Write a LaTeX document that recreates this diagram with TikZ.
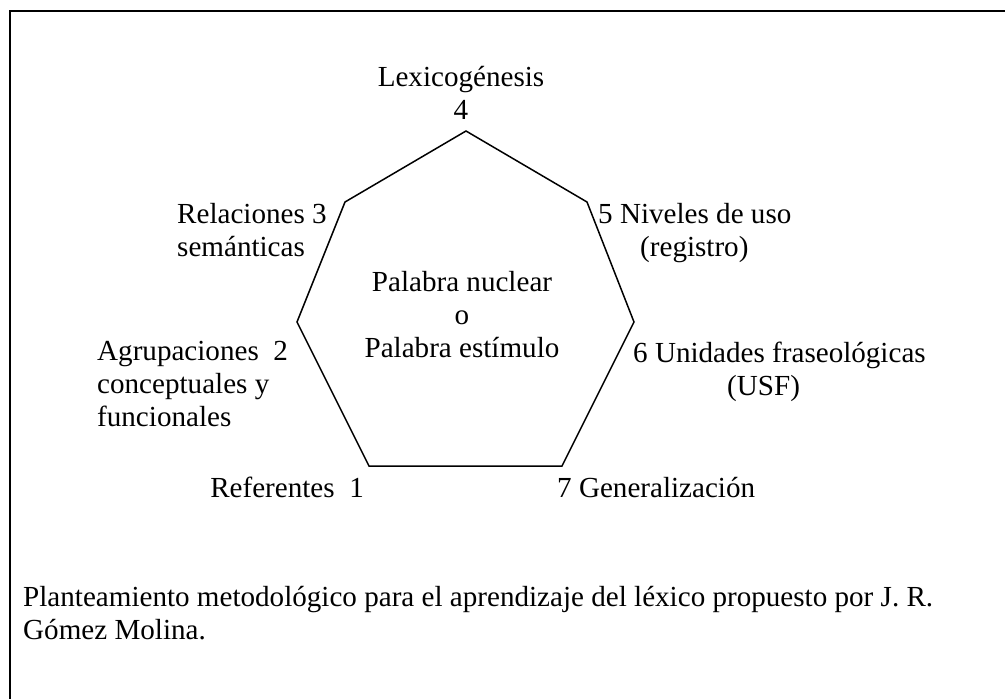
\documentclass[tikz,border=0pt]{standalone}
\usepackage{fontspec}
\setmainfont{Liberation Serif}
\begin{document}
\begin{tikzpicture}[x=1pt,y=-1pt,
  lbl/.style={inner sep=0pt,font=\fontsize{29.1}{33}\selectfont},
  edge/.style={line width=1.5pt,line join=miter}]
\useasboundingbox (0,0) rectangle (1005,699);
\draw[line width=2pt] (1006,10.5) -- (9.5,10.5) -- (9.5,700);
% heptagon vertices
\coordinate (v4) at (466,131);
\coordinate (v5) at (587,202);
\coordinate (v6) at (634,322);
\coordinate (v7) at (562,466);
\coordinate (v1) at (369,466);
\coordinate (v2) at (297,322);
\coordinate (v3) at (345,202);
\draw[edge] (v1) -- (v2) -- (v3) -- (v4) -- (v5) -- (v6) -- (v7) -- cycle;
% labels (base = baseline of last line)
\node[lbl,anchor=base,align=center] (lex) at (461,119) {Lexicogénesis\\4};
\node[lbl,anchor=base west,align=left] (rel) at (177,256) {Relaciones 3\\semánticas};
\node[lbl,anchor=base west,align=left] (niv) at (598,256) {5 Niveles de uso\\\hspace*{42pt}(registro)};
\node[lbl,anchor=base west,align=left] (agr) at (97,426) {Agrupaciones\ \ 2\\conceptuales y\\funcionales};
\node[lbl,anchor=base west,align=left] (uni) at (633,395) {6 Unidades fraseológicas\\\hspace*{94pt}(USF)};
\node[lbl,anchor=base east] (ref) at (364,497) {Referentes\ \ 1};
\node[lbl,anchor=base west] (gen) at (557,497) {7 Generalización};
\node[lbl,anchor=base,align=center] (cen) at (462,357) {Palabra nuclear\\o\\Palabra estímulo};
\node[lbl,anchor=base west,align=left] (cap) at (23,639) {Planteamiento metodológico para el aprendizaje del léxico propuesto por J. R.\\Gómez Molina.};
\end{tikzpicture}
\end{document}
